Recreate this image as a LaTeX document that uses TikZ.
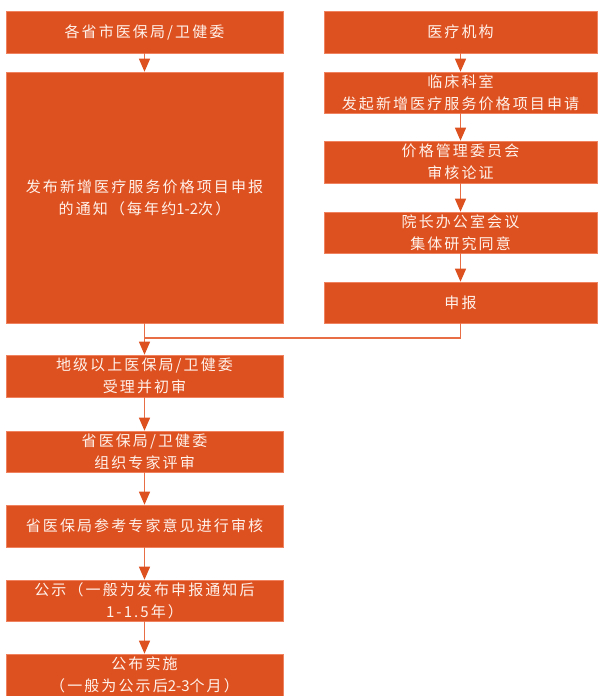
\documentclass[tikz,border=0pt]{standalone}
\usepackage{fontspec}
\newfontfamily\cjk[LetterSpace=14]{Noto Sans CJK SC}
\newfontfamily\cjkn{Noto Sans CJK SC}
\usetikzlibrary{arrows.meta}
\definecolor{boxc}{RGB}{221,81,33}
\definecolor{edgec}{RGB}{240,130,95}
\definecolor{linec}{RGB}{232,110,70}
\definecolor{txtc}{RGB}{255,242,235}
\tikzset{
  box/.style={rectangle, fill=boxc, draw=edgec, line width=0.6pt, text=txtc, align=center,
    inner sep=0pt, font={\cjk\fontsize{15pt}{22pt}\selectfont}},
  lbox/.style={box, minimum width=277pt},
  rbox/.style={box, minimum width=273pt},
  conn/.style={draw=linec, line width=1.3pt},
  arr/.style={conn, -{Triangle[length=13pt,width=11pt,color=boxc]}},
}
\begin{document}
\begin{tikzpicture}[x=1pt,y=-1pt]
\useasboundingbox (0,0) rectangle (598,696);
% left column
\node[lbox, minimum height=42pt] (l1) at (144.5,32) {各省市医保局/卫健委};
\node[lbox, minimum height=251pt] (l2) at (144.5,197.5) {发布新增医疗服务价格项目申报\\的通知（每年约{\cjkn 1-2}次）};
\node[lbox, minimum height=42pt] (l3) at (144.5,376) {地级以上医保局/卫健委\\受理并初审};
\node[lbox, minimum height=41pt] (l4) at (144.5,451.5) {省医保局/卫健委\\组织专家评审};
\node[lbox, minimum height=42pt] (l5) at (144.5,526) {省医保局参考专家意见进行审核};
\node[lbox, minimum height=41pt] (l6) at (144.5,600.5) {公示（一般为发布申报通知后\\1-1.5年）};
\node[lbox, minimum height=42pt] (l7) at (144.5,675) {公布实施\\（一般为公示后{\cjkn 2-3}个月）};
% right column
\node[rbox, minimum height=42pt] (r1) at (460.5,32) {医疗机构};
\node[rbox, minimum height=41pt] (r2) at (460.5,92.5) {临床科室\\发起新增医疗服务价格项目申请};
\node[rbox, minimum height=42pt] (r3) at (460.5,162) {价格管理委员会\\审核论证};
\node[rbox, minimum height=41pt] (r4) at (460.5,232.5) {院长办公室会议\\集体研究同意};
\node[rbox, minimum height=41pt] (r5) at (460.5,302.5) {申报};
\coordinate (join) at (144.5,338);
% connectors
\draw[arr] (l1) -- (l2);
\draw[arr] (l2) -- (l3);
\draw[arr] (l3) -- (l4);
\draw[arr] (l4) -- (l5);
\draw[arr] (l5) -- (l6);
\draw[arr] (l6) -- (l7);
\draw[arr] (r1) -- (r2);
\draw[arr] (r2) -- (r3);
\draw[arr] (r3) -- (r4);
\draw[arr] (r4) -- (r5);
\draw[conn] (r5.south) |- (join);
\end{tikzpicture}
\end{document}
